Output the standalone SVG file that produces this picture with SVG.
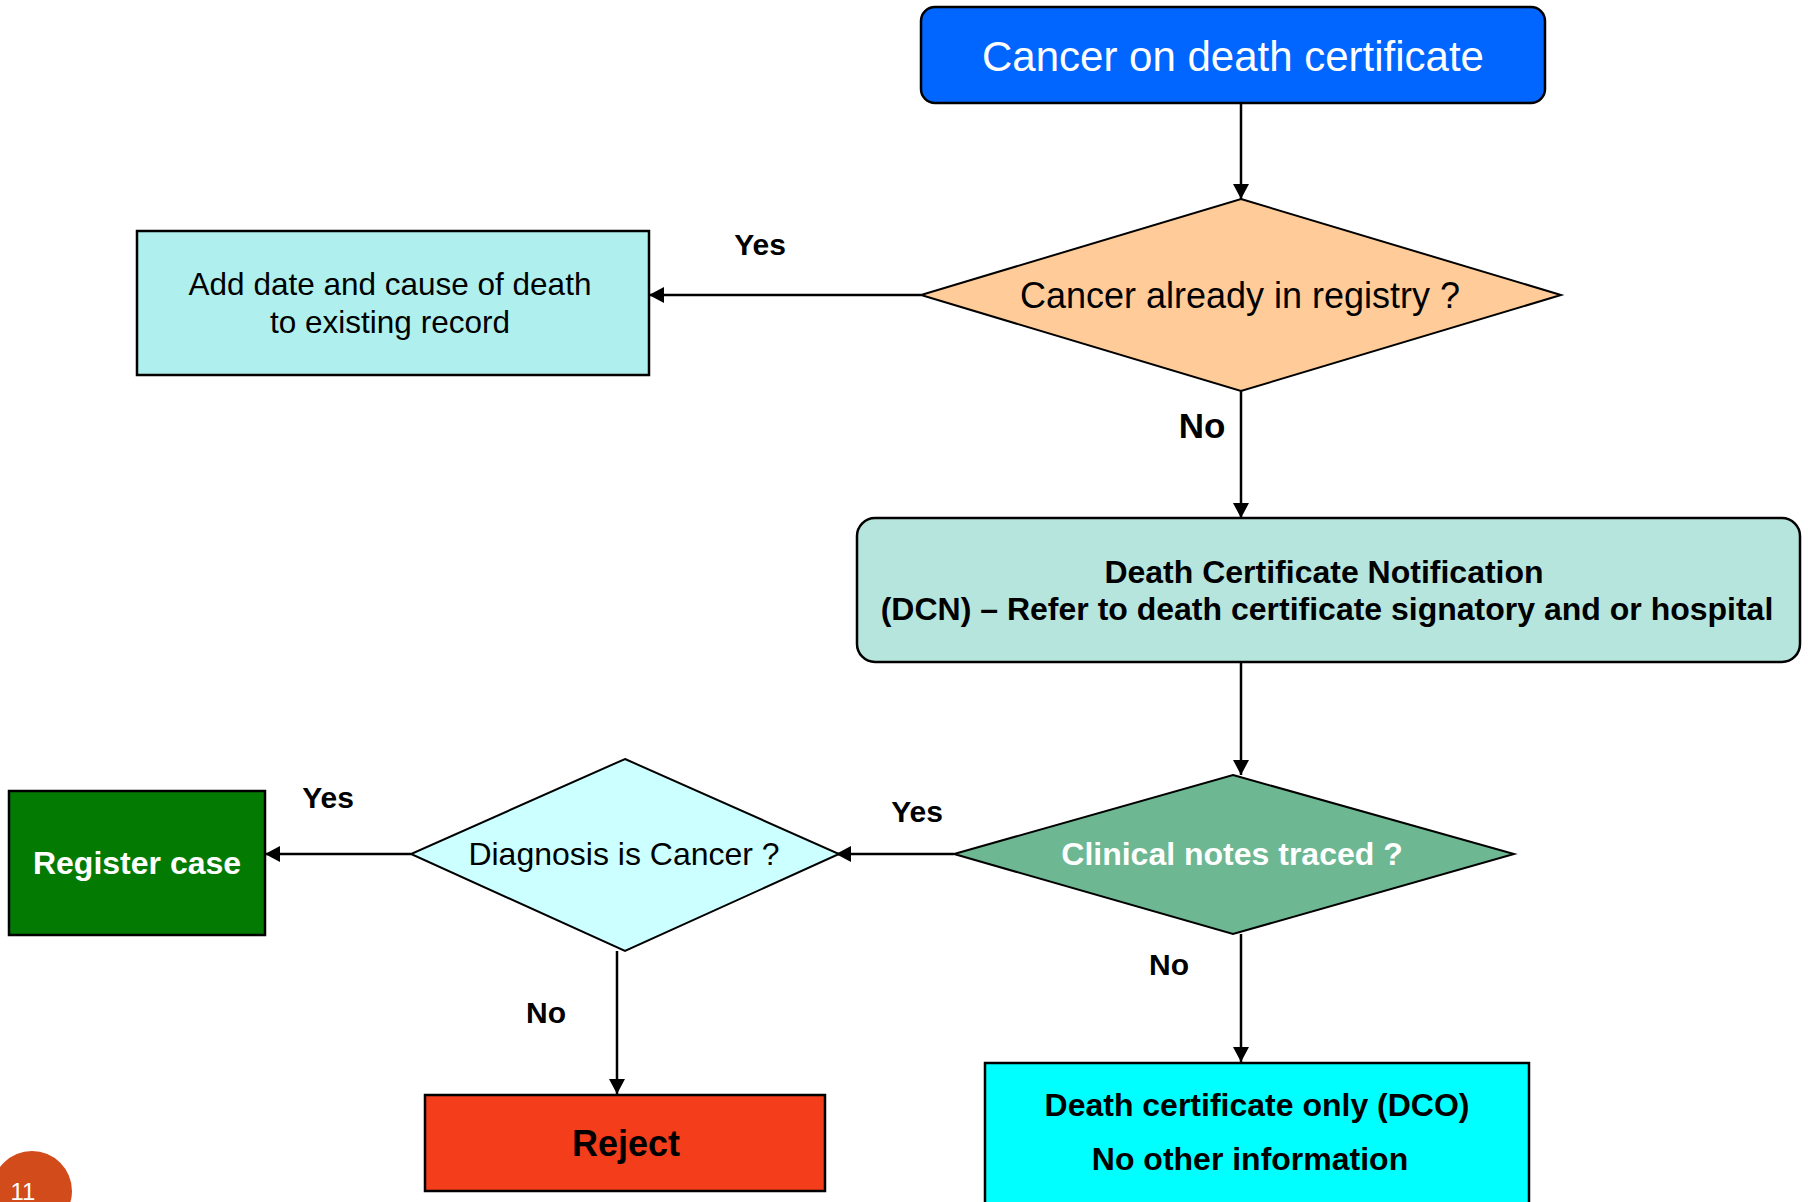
<svg xmlns="http://www.w3.org/2000/svg" width="1808" height="1202" viewBox="0 0 1808 1202">
<defs>
<style>
text{font-family:"Liberation Sans",Arial,sans-serif;text-anchor:middle;}
.b{font-weight:bold;}
.w{fill:#ffffff;}
.k{fill:#000000;}
.box{stroke:#000;stroke-width:2.5;}
.dia{stroke:#000;stroke-width:2;}
.con{stroke:#000;stroke-width:2.5;fill:none;marker-end:url(#arr);}
</style>
<marker id="arr" markerUnits="userSpaceOnUse" markerWidth="15" markerHeight="16" refX="15" refY="8" orient="auto">
<path d="M0,0 L15,8 L0,16 z" fill="#000"/>
</marker>
</defs>
<rect width="1808" height="1202" fill="#ffffff"/>

<g id="connectors">
<path class="con" d="M1241,103 V199"/>
<path class="con" d="M921,295 H649"/>
<path class="con" d="M1241,391 V518"/>
<path class="con" d="M1241,662 V775"/>
<path class="con" d="M954,854 H836"/>
<path class="con" d="M411,854 H265"/>
<path class="con" d="M617,951 V1094"/>
<path class="con" d="M1241,934 V1062"/>
<text class="b" x="760" y="255" font-size="30">Yes</text>
<text class="b" x="1202" y="438" font-size="35">No</text>
<text class="b" x="917" y="822" font-size="30">Yes</text>
<text class="b" x="328" y="808" font-size="30">Yes</text>
<text class="b" x="546" y="1023" font-size="30">No</text>
<text class="b" x="1169" y="975" font-size="30">No</text>
</g>

<g id="start">
<rect class="box" x="921" y="7" width="624" height="96" rx="14" fill="#0066FF"/>
<text class="w" x="1233" y="71" font-size="42">Cancer on death certificate</text>
</g>

<g id="registry">
<polygon class="dia" points="1241,199 1561,295 1241,391 921,295" fill="#FFCC99"/>
<text class="k" x="1240" y="308" font-size="36">Cancer already in registry ?</text>
</g>

<g id="add-date">
<rect class="box" x="137" y="231" width="512" height="144" fill="#AFF0EE"/>
<text class="k" x="390" y="295" font-size="31.5">Add date and cause of death</text>
<text class="k" x="390" y="333" font-size="31.5">to existing record</text>
</g>

<g id="dcn">
<rect class="box" x="857" y="518" width="943" height="144" rx="18" fill="#B6E5DE"/>
<text class="b k" x="1324" y="583" font-size="32">Death Certificate Notification</text>
<text class="b k" x="1327" y="620" font-size="32">(DCN) – Refer to death certificate signatory and or hospital</text>
</g>

<g id="clinical">
<polygon class="dia" points="1233,775 1514,854 1233,934 954,854" fill="#6DB792"/>
<text class="b w" x="1232" y="865" font-size="32">Clinical notes traced ?</text>
</g>

<g id="diagnosis">
<polygon class="dia" points="625,759 839,854 625,951 411,854" fill="#CCFFFF"/>
<text class="k" x="624" y="865" font-size="32">Diagnosis is Cancer ?</text>
</g>

<g id="register">
<rect class="box" x="9" y="791" width="256" height="144" fill="#037B03"/>
<text class="b w" x="137" y="874" font-size="32">Register case</text>
</g>

<g id="reject">
<rect class="box" x="425" y="1095" width="400" height="96" fill="#F43D1A"/>
<text class="b k" x="626" y="1156" font-size="36">Reject</text>
</g>

<g id="dco">
<rect class="box" x="985" y="1063" width="544" height="160" fill="#00FFFF"/>
<text class="b k" x="1257" y="1116" font-size="32">Death certificate only (DCO)</text>
<text class="b k" x="1250" y="1170" font-size="32">No other information</text>
</g>

<g id="page-number">
<circle cx="32" cy="1191" r="40" fill="#D24B1A"/>
<text class="w" x="23" y="1200" font-size="24">11</text>
</g>
</svg>
